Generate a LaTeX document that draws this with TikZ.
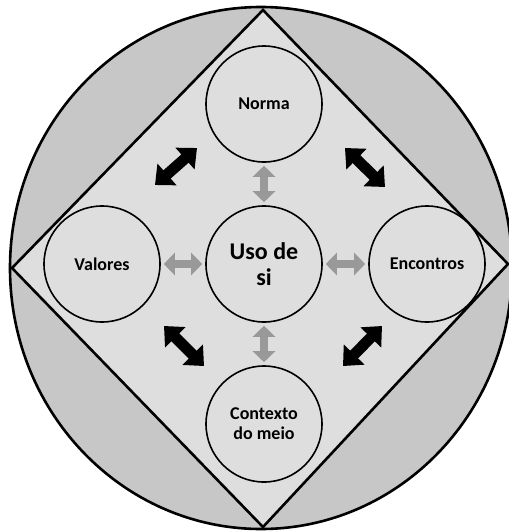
\documentclass[tikz,border=0pt]{standalone}
\usepackage{fontspec}
\setmainfont{Carlito}
\usepackage{tikz}
\usetikzlibrary{arrows.meta,positioning}
\definecolor{ringgray}{gray}{0.78}
\definecolor{panelgray}{gray}{0.87}
\definecolor{linkgray}{gray}{0.6}

\begin{document}
\begin{tikzpicture}[x=1pt,y=-1pt,
  bubble/.style={circle, draw, line width=1.6pt, fill=panelgray, minimum size=116pt, inner sep=0pt, align=center, font=\bfseries\fontsize{18}{20}\selectfont},
  greylink/.style={draw=linkgray, line width=8pt, {Triangle[width=22pt,length=11pt]}-{Triangle[width=22pt,length=11pt]}, shorten >=3pt, shorten <=3pt},
  blacklink/.style={line width=11pt, {Triangle[width=28pt,length=16pt]}-{Triangle[width=28pt,length=16pt]}}]
  \useasboundingbox (0,0) rectangle (509,531);
  % ring and diamond
  \draw[line width=2.6pt, fill=ringgray] (261,268) ellipse [x radius=251, y radius=261];
  \draw[line width=2.6pt, fill=panelgray] (263,10) -- (12,268) -- (263,527) -- (508,264) -- cycle;

  \node (uso) [bubble, font=\bfseries\fontsize{24}{26}\selectfont] at (264,264) {Uso de\\si};
  \node (norma) [bubble, above of=uso, node distance=160pt] {Norma};
  \node (contexto) [bubble, below of=uso, node distance=160pt] {Contexto\\do meio};
  \node (valores) [bubble, left of=uso, node distance=162pt] {Valores};
  \node (encontros) [bubble, right of=uso, node distance=163pt] {Encontros};

  \draw[greylink] (norma) -- (uso);
  \draw[greylink] (contexto) -- (uso);
  \draw[greylink] (valores) -- (uso);
  \draw[greylink] (encontros) -- (uso);

  % diagonal links
  \coordinate (nwa) at (155,185);
  \coordinate (nwb) at (197,148);
  \coordinate (nea) at (345,148);
  \coordinate (neb) at (385,187);
  \coordinate (swa) at (164,326);
  \coordinate (swb) at (204,366);
  \coordinate (sea) at (382,326);
  \coordinate (seb) at (343,366);
  \draw[blacklink] (nwa) -- (nwb);
  \draw[blacklink] (nea) -- (neb);
  \draw[blacklink] (swa) -- (swb);
  \draw[blacklink] (sea) -- (seb);
\end{tikzpicture}
\end{document}
